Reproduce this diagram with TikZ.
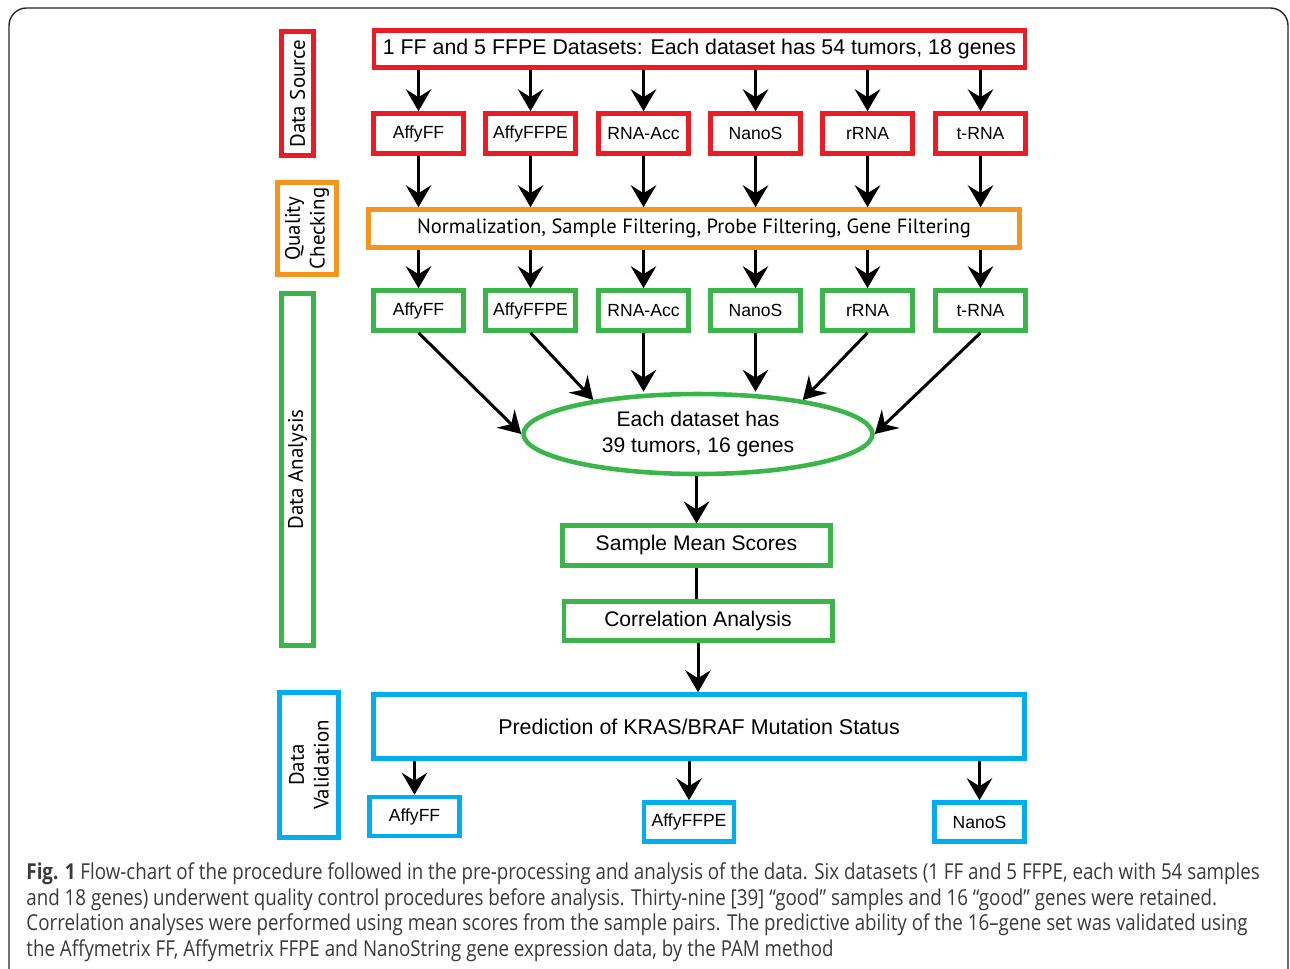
\documentclass[tikz,border=0pt]{standalone}
\usepackage{fontspec}
\setmainfont{Liberation Sans}
\newfontfamily\stagefont{PT Sans}
\newfontfamily\capfont[FakeStretch=0.853,Ligatures=TeX]{Open Sans}
\usetikzlibrary{arrows.meta,shapes}
\definecolor{srcred}{HTML}{ED1C24}
\definecolor{qcorange}{HTML}{F7941D}
\definecolor{dagreen}{HTML}{39B54A}
\definecolor{dvblue}{HTML}{00AEEF}
\definecolor{capgray}{HTML}{3A3A3A}
\tikzstyle{block} = [rectangle, draw, line width=2.6pt, fill=white, inner sep=0pt,
    minimum width=1.8cm, minimum height=0.8cm, font=\fontsize{10}{12}\selectfont]
\tikzstyle{wide} = [rectangle, draw, line width=2.6pt, fill=white, inner sep=0pt,
    minimum width=13.02cm, font=\fontsize{12.15}{14}\selectfont]
\tikzstyle{mid} = [rectangle, draw=dagreen, line width=2.6pt, fill=white, inner sep=0pt,
    minimum width=5.37cm, minimum height=0.79cm, font=\fontsize{12}{14}\selectfont]
\tikzstyle{stage} = [rectangle, draw, line width=2.6pt, rotate=90, inner sep=0pt,
    align=center, font=\stagefont\fontsize{11.9}{14}\selectfont]

\begin{document}
\begin{tikzpicture}[x=0.02cm,y=-0.02cm,->,>={Stealth[length=12.5pt,width=14.5pt,inset=4.5pt]},
                    line width=1.7pt]
  \useasboundingbox (0,0) rectangle (1290,968);
  \draw[-,line width=0.8pt,rounded corners=10pt,black!85] (9,980) -- (9,8) -- (1288,8) -- (1288,980);

  % stages on the left
  \node[stage,draw=srcred,minimum width=2.48cm,minimum height=0.64cm]   (src) at (297.5,93.5) {Data Source};
  \node[stage,draw=qcorange,minimum width=1.84cm,minimum height=1.18cm] (qc)  at (307,228.5)  {Quality\\Checking};
  \node[stage,draw=dagreen,minimum width=7.04cm,minimum height=0.64cm]  (da)  at (297.5,469.5) {Data Analysis};
  \node[stage,draw=dvblue,minimum width=2.9cm,minimum height=1.18cm]    (dv)  at (309,765)    {Data\\Validation};

  % data source
  \node[wide,draw=srcred,minimum height=0.74cm] (all) at (699.5,49)
        {1 FF and 5 FFPE Datasets: Each dataset has 54 tumors, 18 genes};
  \node[block,draw=srcred] (r1) at (418.5,133.5) {AffyFF};
  \node[block,draw=srcred] (r2) at (530.5,133.5) {AffyFFPE};
  \node[block,draw=srcred] (r3) at (643.5,133.5) {RNA-Acc};
  \node[block,draw=srcred] (r4) at (755.5,133.5) {NanoS};
  \node[block,draw=srcred] (r5) at (867.5,133.5) {rRNA};
  \node[block,draw=srcred] (r6) at (980.5,133.5) {t-RNA};

  % quality checking
  \node[wide,draw=qcorange,minimum height=0.76cm,font=\stagefont\fontsize{11.7}{14}\selectfont] (qcall) at (694,228.5)
        {Normalization, Sample Filtering, Probe Filtering, Gene Filtering};

  % data analysis
  \node[block,draw=dagreen] (g1) at (418.5,310.5) {AffyFF};
  \node[block,draw=dagreen] (g2) at (530.5,310.5) {AffyFFPE};
  \node[block,draw=dagreen] (g3) at (643.5,310.5) {RNA-Acc};
  \node[block,draw=dagreen] (g4) at (755.5,310.5) {NanoS};
  \node[block,draw=dagreen] (g5) at (867.5,310.5) {rRNA};
  \node[block,draw=dagreen] (g6) at (980.5,310.5) {t-RNA};
  \node[ellipse,draw=dagreen,line width=2.6pt,inner sep=0pt,minimum width=6.98cm,minimum height=1.6cm,
        align=center,font=\fontsize{12}{14.7}\selectfont] (ell) at (698,434)
        {Each dataset has\\39 tumors, 16 genes};
  \node[mid] (sms) at (696.5,545.5) {Sample Mean Scores};
  \node[mid] (cor) at (698,621) {Correlation Analysis};

  % data validation
  \node[wide,draw=dvblue,minimum height=1.28cm,font=\fontsize{12.2}{14}\selectfont] (pred) at (699,726.5)
        {Prediction of KRAS/BRAF Mutation Status};
  \node[block,draw=dvblue,minimum height=0.78cm] (b1) at (414.5,816.5) {AffyFF};
  \node[block,draw=dvblue,minimum height=0.78cm] (b2) at (689,822) {AffyFFPE};
  \node[block,draw=dvblue,minimum height=0.78cm] (b3) at (979.5,822) {NanoS};

  \foreach \i in {1,...,6} {
    \draw (all.south -| r\i.north) -- (r\i.north);
    \draw (r\i.south) -- (qcall.north -| r\i.south);
    \draw (qcall.south -| g\i.north) -- (g\i.north);
  }

  \path (g1.south) edge (ell.west)
        (g2.south) edge (ell.162)
        (g3.south) edge (g3.south |- ell.north)
        (g4.south) edge (g4.south |- ell.north)
        (g5.south) edge (ell.18)
        (g6.south) edge (ell.east);
  \draw (ell.south -| sms.north) -- (sms.north);
  \draw[-] (sms.south) -- (sms.south |- cor.north);
  \draw (cor.south) -- (cor.south |- pred.north);
  \path (pred.south -| b1.north) edge (b1.north)
        (pred.south -| b2.north) edge (b2.north)
        (pred.south -| b3.north) edge (b3.north);

  % caption
  \node[anchor=north west,align=left,inner sep=0pt,text=capgray,font=\capfont\fontsize{12.5}{14.7}\selectfont] (cap) at (25,861)
    {\textbf{Fig. 1} Flow-chart of the procedure followed in the pre-processing and analysis of the data. Six datasets (1 FF and 5 FFPE, each with 54 samples\\
     and 18 genes) underwent quality control procedures before analysis. Thirty-nine [39] “good” samples and 16 “good” genes were retained.\\
     Correlation analyses were performed using mean scores from the sample pairs. The predictive ability of the 16–gene set was validated using\\
     the Affymetrix FF, Affymetrix FFPE and NanoString gene expression data, by the PAM method};
\end{tikzpicture}
\end{document}
